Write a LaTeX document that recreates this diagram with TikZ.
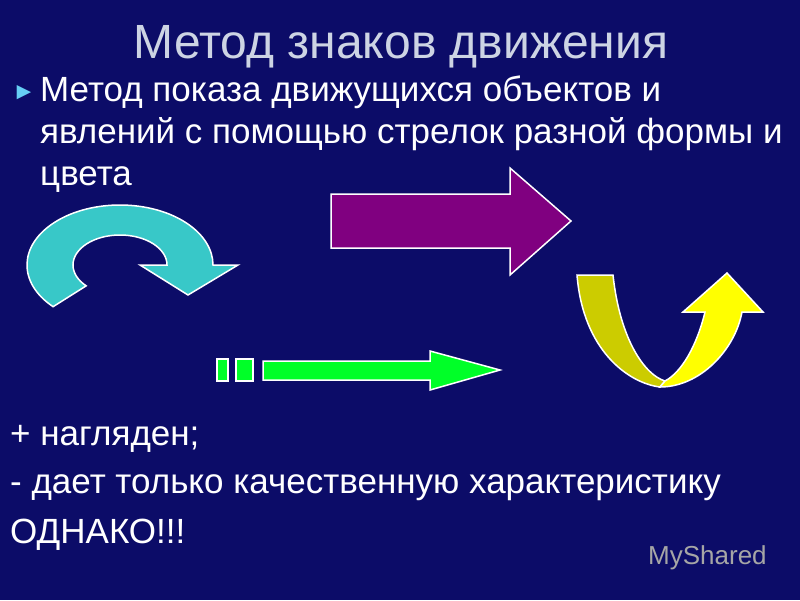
\documentclass[tikz,border=0pt]{standalone}
\usepackage{fontspec}
\setmainfont{Liberation Sans}
\begin{document}
\begin{tikzpicture}[x=1pt,y=-1pt,
  shp/.style={draw=white,line width=1.5pt,line join=miter},
  txt/.style={anchor=base west,text=white,font=\fontsize{35}{40}\selectfont,inner sep=0pt}]
\definecolor{bg}{RGB}{12,12,104}
\definecolor{cyanA}{RGB}{56,200,200}
\definecolor{purp}{RGB}{128,0,128}
\definecolor{grn}{RGB}{0,255,40}
\definecolor{yelD}{RGB}{204,204,0}
\definecolor{yelB}{RGB}{255,255,0}
\definecolor{ttl}{RGB}{205,212,228}
\fill[bg] (0,0) rectangle (800,600);
\useasboundingbox (0,0) rectangle (800,600);
\node[anchor=base,text=ttl,font=\fontsize{48}{52}\selectfont,inner sep=0pt] (title) at (401,58) {Метод знаков движения};
\node[anchor=base west,text=cyan!60!white,font=\fontsize{24}{26}\selectfont,inner sep=0pt] (bul) at (12,99) {►};
\node[txt] (l1) at (40,101) {Метод показа движущихся объектов и};
\node[txt] (l2) at (40,143) {явлений с помощью стрелок разной формы и};
\node[txt] (l3) at (40,185) {цвета};
\node[txt] (p) at (10,445) {+ нагляден;};
\node[txt] (m) at (10,493) {- дает только качественную характеристику};
\node[txt] (o) at (10,543) {ОДНАКО!!!};
\node[anchor=base west,text=gray!70,font=\fontsize{26}{28}\selectfont,inner sep=0pt] (ms) at (648,564) {MyShared};
% purple arrow
\draw[shp,fill=purp] (331,194)--(510,194)--(510,168)--(571,221)--(510,275)--(510,248)--(331,248)--cycle;
% green arrow
\draw[shp,fill=grn] (217,359) rectangle (228,381);
\draw[shp,fill=grn] (236,359) rectangle (253,381);
\draw[shp,fill=grn] (263,361)--(430,361)--(430,351)--(500,370)--(430,390)--(430,380)--(263,380)--cycle;
% cyan curved arrow
\draw[shp,fill=cyanA] (120,265) ++(136:93 and 60) arc[start angle=136,end angle=360,x radius=93,y radius=60]
  -- (238,265) -- (188,295) -- (140,265) -- (167,265)
  arc[start angle=360,end angle=136,x radius=47,y radius=30] -- cycle;
% yellow U arrow
\draw[shp,fill=yelD] (577,275)--(613,275) .. controls (620,340) and (645,375) .. (665,381)
  -- (660,387) .. controls (628,383) and (583,350) .. (577,275) -- cycle;
\draw[shp,fill=yelB] (665,381) .. controls (682,372) and (697,345) .. (705,312)
  -- (683,312) -- (727,273) -- (763,312) -- (742,312)
  .. controls (735,350) and (700,387) .. (660,387) -- cycle;
\end{tikzpicture}
\end{document}
